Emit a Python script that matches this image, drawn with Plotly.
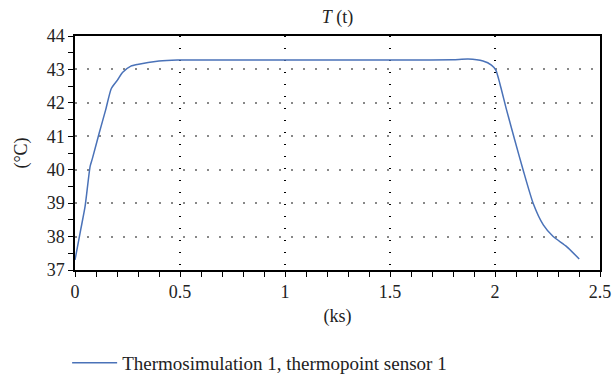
import plotly.graph_objects as go

time_ks = [0.0, 0.027, 0.048, 0.072, 0.083, 0.115, 0.146, 0.173, 0.202, 0.226, 0.266, 0.297,
           0.40, 0.488, 0.8, 1.2, 1.6, 1.8, 1.872, 1.943, 1.983, 2.004, 2.023, 2.055, 2.094,
           2.134, 2.182, 2.23, 2.277, 2.341, 2.401]
temp_c = [37.3, 38.2, 38.9, 40.1, 40.34, 41.09, 41.79, 42.43, 42.68, 42.91, 43.1, 43.15,
          43.25, 43.28, 43.28, 43.28, 43.28, 43.29, 43.31, 43.25, 43.13, 42.98, 42.58, 41.79, 40.89,
          39.99, 38.99, 38.35, 38.0, 37.7, 37.33]

FONT = "Liberation Serif"
FS = 18
TXT = "#222"

fig = go.Figure()
fig.add_trace(go.Scatter(
    x=time_ks, y=temp_c, mode="lines",
    line=dict(color="#4a72b8", width=1.5, shape="spline", smoothing=0.6),
    name="Thermosimulation 1, thermopoint sensor 1"))

fig.update_layout(
    width=614, height=374,
    margin=dict(l=75, r=14, t=36, b=104),
    paper_bgcolor="white", plot_bgcolor="white",
    font=dict(family=FONT, size=FS, color=TXT),
    title=dict(text="<i>T</i> (t)", x=0.5, xanchor="center", xref="paper",
               y=0.955, yref="container", yanchor="middle",
               font=dict(family=FONT, size=FS, color=TXT)),
    showlegend=True,
    legend=dict(orientation="h", x=-0.015, xanchor="left", xref="paper",
                y=0.03, yref="container", yanchor="middle", itemwidth=45,
                font=dict(family=FONT, size=19, color=TXT), bgcolor="rgba(0,0,0,0)"),
    xaxis=dict(range=[0, 2.5], tick0=0, dtick=0.5, showline=True, linecolor="black", linewidth=1.5,
               mirror=True, ticks="outside", ticklen=5, tickcolor="black", automargin=False,
               showgrid=True, gridcolor="black", griddash="1px,11px", gridwidth=1.5,
               zeroline=False,
               minor=dict(dtick=0.1, ticks="outside", ticklen=5, tickcolor="black", showgrid=False),
               title=dict(text="(ks)", standoff=8, font=dict(family=FONT, size=FS)),
               tickfont=dict(family=FONT, size=FS)),
    yaxis=dict(range=[37, 44], tick0=37, dtick=1, showline=True, linecolor="black", linewidth=1.5,
               mirror=True, ticks="outside", ticklen=5, tickcolor="black", automargin=False,
               showgrid=True, gridcolor="#888", griddash="2px,10px", gridwidth=1.5,
               zeroline=False,
               minor=dict(dtick=0.5, ticks="outside", ticklen=5, tickcolor="black", showgrid=False),
               title=dict(text="(°C)", standoff=14, font=dict(family=FONT, size=FS)),
               tickfont=dict(family=FONT, size=FS)),
)

fig.write_html("out.html")
